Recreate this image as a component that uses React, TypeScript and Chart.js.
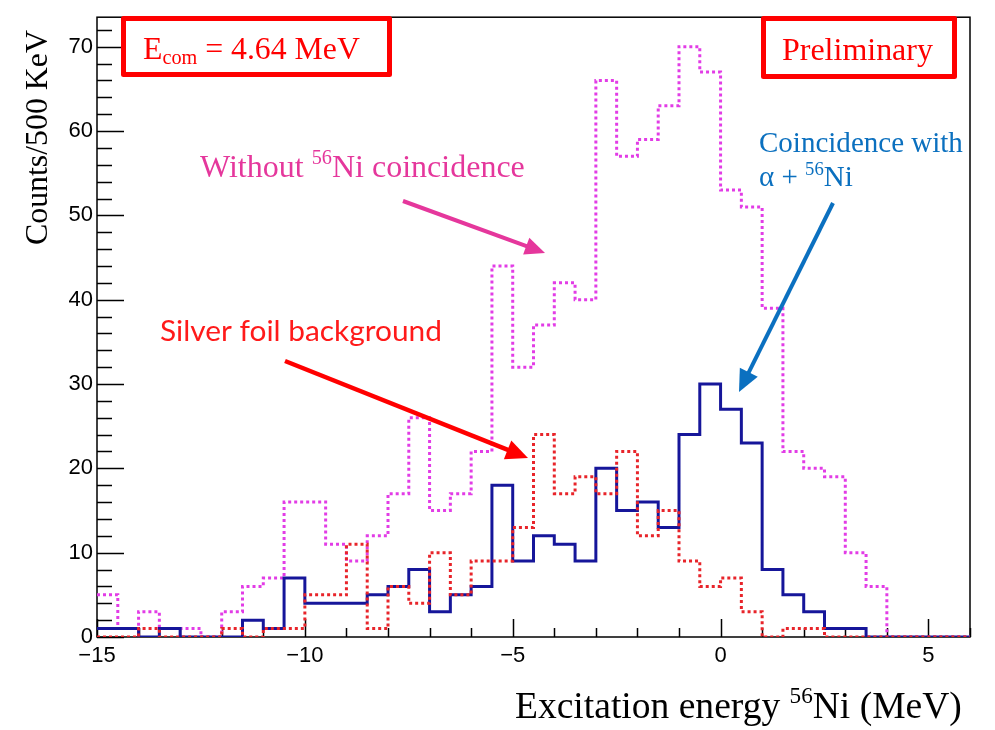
import React, { useEffect, useRef } from "react";
import { Chart, registerables } from "chart.js";

Chart.register(...registerables);

// ---- Data (counts per 0.5 MeV bin, bins from -15 to 6 MeV) ----
const xMin = -15;
const xMax = 6;
const binWidth = 0.5;
const yMax = 73.5;

const xTickValues = [-15, -10, -5, 0, 5];
const yTickValues = [0, 10, 20, 30, 40, 50, 60, 70];
const xMinorStep = 1;
const yMinorStep = 2;

// Coincidence with alpha + 56Ni (solid blue)
const coincidenceCounts = [
  1, 1, 0, 1, 0, 0, 0, 2, 1, 7,
  4, 4, 4, 5, 6, 8, 3, 5, 6, 18,
  9, 12, 11, 9, 20, 15, 16, 13, 24, 30,
  27, 23, 8, 5, 3, 1, 1, 0, 0, 0,
  0, 0,
];

// Silver foil background (red dotted)
const silverCounts = [
  0, 0, 1, 0, 0, 0, 1, 0, 1, 1,
  5, 5, 11, 1, 6, 4, 10, 5, 9, 9,
  13, 24, 17, 19, 17, 22, 12, 15, 9, 6,
  7, 3, 0, 1, 1, 0, 0, 0, 0, 0,
  0, 0,
];

// Without 56Ni coincidence (magenta dotted)
const withoutCounts = [
  5, 1, 3, 1, 1, 0, 3, 6, 7, 16,
  16, 11, 9, 12, 17, 26, 15, 17, 22, 44,
  32, 37, 42, 40, 66, 57, 59, 63, 70, 67,
  53, 51, 39, 22, 20, 19, 10, 6, 0, 0,
  0, 0,
];

const binLowEdges = coincidenceCounts.map((_, i) => xMin + i * binWidth);

function histPoints(counts: number[]) {
  const pts = counts.map((c, i) => ({ x: binLowEdges[i], y: c }));
  pts.push({ x: xMax, y: counts[counts.length - 1] });
  return pts;
}

const SERIF = '"Liberation Serif", "Times New Roman", serif';
const SANS = '"Liberation Sans", Arial, sans-serif';

type Run = { t: string; s: number; dy?: number };

function drawRuns(
  ctx: CanvasRenderingContext2D,
  runs: Run[],
  family: string,
  x: number,
  baseline: number,
  color: string,
  targetWidth?: number
) {
  let scale = 1;
  if (targetWidth) {
    let total = 0;
    for (const r of runs) {
      ctx.font = `${r.s}px ${family}`;
      total += ctx.measureText(r.t).width;
    }
    scale = targetWidth / total;
  }
  ctx.fillStyle = color;
  ctx.textBaseline = "alphabetic";
  ctx.textAlign = "left";
  let cx = x;
  for (const r of runs) {
    ctx.font = `${r.s * scale}px ${family}`;
    ctx.fillText(r.t, cx, baseline + (r.dy || 0) * scale);
    cx += ctx.measureText(r.t).width;
  }
  return scale;
}

function arrow(
  ctx: CanvasRenderingContext2D,
  x1: number,
  y1: number,
  x2: number,
  y2: number,
  color: string,
  w: number,
  headLen: number,
  headHalf: number
) {
  const ang = Math.atan2(y2 - y1, x2 - x1);
  const c = Math.cos(ang);
  const s = Math.sin(ang);
  const bx = x2 - headLen * c;
  const by = y2 - headLen * s;
  ctx.strokeStyle = color;
  ctx.fillStyle = color;
  ctx.lineWidth = w;
  ctx.lineCap = "butt";
  ctx.beginPath();
  ctx.moveTo(x1, y1);
  ctx.lineTo(bx + c, by + s);
  ctx.stroke();
  ctx.beginPath();
  ctx.moveTo(x2, y2);
  ctx.lineTo(bx + headHalf * s, by - headHalf * c);
  ctx.lineTo(bx - headHalf * s, by + headHalf * c);
  ctx.closePath();
  ctx.fill();
}

const framePlugin = {
  id: "frame",
  beforeDatasetsDraw(chart: any) {
    const { ctx, chartArea: a, scales } = chart;
    const xs = scales.x;
    const ys = scales.y;
    ctx.save();
    ctx.strokeStyle = "#000";
    ctx.lineWidth = 1.5;
    ctx.strokeRect(a.left, a.top, a.right - a.left, a.bottom - a.top);
    ctx.beginPath();
    for (let v = 0; v <= yMax; v += yMinorStep) {
      const py = Math.round(ys.getPixelForValue(v)) + 0.5;
      const len = v % 10 === 0 ? 27 : 15;
      ctx.moveTo(a.left, py);
      ctx.lineTo(a.left + len, py);
    }
    for (let v = xMin; v <= xMax; v += xMinorStep) {
      const px = Math.round(xs.getPixelForValue(v)) + 0.5;
      const len = v % 5 === 0 ? 18 : 9;
      ctx.moveTo(px, a.bottom);
      ctx.lineTo(px, a.bottom - len);
    }
    ctx.stroke();
    ctx.restore();
  },
};

const annotationPlugin = {
  id: "annot",
  afterDraw(chart: any) {
    const ctx: CanvasRenderingContext2D = chart.ctx;
    ctx.save();

    // Boxes
    ctx.strokeStyle = "#ff0000";
    ctx.lineWidth = 5;
    ctx.lineJoin = "round";
    ctx.strokeRect(123.5, 18.5, 266, 56);
    ctx.strokeRect(763.5, 18.5, 191, 58);

    // E_com = 4.64 MeV
    drawRuns(
      ctx,
      [
        { t: "E", s: 33 },
        { t: "com", s: 21, dy: 5 },
        { t: " = 4.64 MeV", s: 33 },
      ],
      SERIF,
      143,
      59,
      "#ff0000",
      217
    );

    // Preliminary
    drawRuns(ctx, [{ t: "Preliminary", s: 32 }], SERIF, 782, 60, "#ff0000", 151);

    // Without 56Ni coincidence
    drawRuns(
      ctx,
      [
        { t: "Without ", s: 30 },
        { t: "56", s: 19, dy: -12 },
        { t: "Ni coincidence", s: 30 },
      ],
      SERIF,
      200,
      177,
      "#e5379c",
      325
    );

    // Coincidence with / alpha + 56Ni
    const sc = drawRuns(ctx, [{ t: "Coincidence with", s: 28 }], SERIF, 759, 152, "#0b70bf", 204);
    drawRuns(
      ctx,
      [
        { t: "\u03b1 + ", s: 28 * sc },
        { t: "56", s: 18 * sc, dy: -11 },
        { t: "Ni", s: 28 * sc },
      ],
      SERIF,
      759,
      186,
      "#0b70bf"
    );

    // Silver foil background
    drawRuns(ctx, [{ t: "Silver foil background", s: 26 }], '"Lato", "Open Sans", sans-serif', 160, 341, "#ff1a1a", 282);

    // Arrows
    arrow(ctx, 403, 201, 545, 253, "#e5379c", 4, 20, 9);
    arrow(ctx, 285, 361, 528, 458, "#ff0000", 4.5, 22, 10);
    arrow(ctx, 833, 203, 739, 392, "#0b70c0", 4, 22, 10);

    // Y axis title (rotated)
    ctx.save();
    ctx.translate(47, 245);
    ctx.rotate(-Math.PI / 2);
    drawRuns(ctx, [{ t: "Counts/500 KeV", s: 30 }], SERIF, 0, 0, "#000", 215);
    ctx.restore();

    // X axis title
    drawRuns(
      ctx,
      [
        { t: "Excitation energy ", s: 34 },
        { t: "56", s: 21, dy: -14 },
        { t: "Ni (MeV)", s: 34 },
      ],
      SERIF,
      515,
      718,
      "#000",
      447
    );

    ctx.restore();
  },
};

function fmtTick(v: number) {
  return v < 0 ? "\u2212" + Math.abs(v) : String(v);
}

export default function App() {
  const canvasRef = useRef<HTMLCanvasElement | null>(null);

  useEffect(() => {
    const canvas = canvasRef.current;
    if (!canvas) return;
    const chart = new Chart(canvas, {
      type: "line",
      data: {
        datasets: [
          {
            label: "Silver foil background",
            data: histPoints(silverCounts),
            borderColor: "#e8242a",
            borderWidth: 3,
            borderDash: [3, 3],
            stepped: "before",
            pointRadius: 0,
            fill: false,
            order: 1,
          },
          {
            label: "Coincidence with alpha + 56Ni",
            data: histPoints(coincidenceCounts),
            borderColor: "#16169a",
            borderWidth: 3,
            stepped: "before",
            pointRadius: 0,
            fill: false,
            order: 2,
          },
          {
            label: "Without 56Ni coincidence",
            data: histPoints(withoutCounts),
            borderColor: "#e23ce6",
            borderWidth: 3,
            borderDash: [3, 3],
            stepped: "before",
            pointRadius: 0,
            fill: false,
            order: 3,
          },
        ],
      },
      options: {
        animation: false,
        responsive: false,
        devicePixelRatio: 1,
        layout: { padding: { left: 0, right: 25, top: 9, bottom: 0 } },
        plugins: {
          legend: { display: false },
          title: { display: false },
          tooltip: { enabled: false },
        },
        scales: {
          x: {
            type: "linear",
            min: xMin,
            max: xMax,
            border: { display: false },
            grid: { display: false, drawTicks: false },
            afterBuildTicks: (scale: any) => {
              scale.ticks = xTickValues.map((v) => ({ value: v }));
            },
            afterFit: (scale: any) => {
              scale.height = 93;
            },
            ticks: {
              autoSkip: false,
              maxRotation: 0,
              padding: 6,
              color: "#000",
              font: { family: SANS, size: 22 },
              callback: (v: any) => fmtTick(Number(v)),
            },
          },
          y: {
            type: "linear",
            min: 0,
            max: yMax,
            border: { display: false },
            grid: { display: false, drawTicks: false },
            afterBuildTicks: (scale: any) => {
              scale.ticks = yTickValues.map((v) => ({ value: v }));
            },
            afterFit: (scale: any) => {
              scale.width = 97;
            },
            ticks: {
              autoSkip: false,
              padding: 4,
              color: "#000",
              font: { family: SANS, size: 22 },
              callback: (v: any) => fmtTick(Number(v)),
            },
          },
        },
      },
      plugins: [framePlugin, annotationPlugin],
    });
    return () => chart.destroy();
  }, []);

  return (
    <div style={{ position: "fixed", left: 0, top: 0, width: 995, height: 730, background: "#fff" }}>
      <canvas ref={canvasRef} width={995} height={730} style={{ display: "block" }} />
    </div>
  );
}
